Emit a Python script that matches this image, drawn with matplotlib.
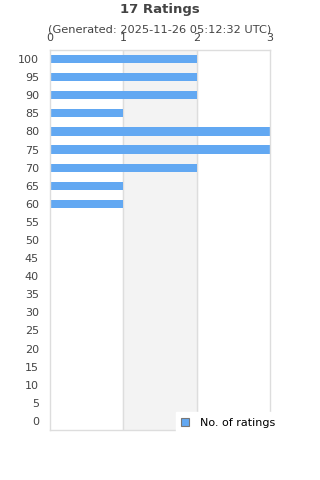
import matplotlib.pyplot as plt
import numpy as np

ratings = [0, 5, 10, 15, 20, 25, 30, 35, 40, 45, 50, 55, 60, 65, 70, 75, 80, 85, 90, 95, 100]
counts = [0, 0, 0, 0, 0, 0, 0, 0, 0, 0, 0, 0, 1, 1, 2, 3, 3, 1, 2, 2, 2]
x_ticks = [0, 1, 2, 3]

barColor = '#62a8f2'
textColor = '#444444'
gridColor = '#dddddd'

fig = plt.figure(figsize=(3.2, 4.8), dpi=100)
ax = fig.add_axes([50/320, 1-430/480, 220/320, 380/480])

y = np.arange(len(ratings))
ax.axvspan(1, 2, color='#f3f3f3', zorder=0)
for xv in x_ticks[1:-1]:
    ax.axvline(xv, color=gridColor, lw=1, zorder=1)
bars = ax.barh(y, counts, 0.45, color=barColor, zorder=2, label='No. of ratings')

ax.set_xlim(0, 3)
ax.set_ylim(-0.5, len(ratings)-0.5)
ax.set_yticks(y, [str(r) for r in ratings])
ax.set_xticks(x_ticks, [str(t) for t in x_ticks])
ax.xaxis.tick_top()
ax.tick_params(axis='both', length=0, labelsize=8, labelcolor=textColor)
ax.tick_params(axis='x', pad=5)
ax.tick_params(axis='y', pad=8)
for s in ax.spines.values():
    s.set_color(gridColor)
    s.set_linewidth(1)

fig.text(0.5, 1-10/480, '17 Ratings', ha='center', va='center',
         fontsize=9.5, fontweight='bold', color=textColor)
fig.text(0.5, 1-30/480, '(Generated: 2025-11-26 05:12:32 UTC)', ha='center',
         va='center', fontsize=8.2, color=textColor)

leg = ax.legend(loc='lower right', bbox_to_anchor=(1.075, -0.024), frameon=True,
                fontsize=8, handlelength=0.7, handleheight=0.7, borderpad=0.5,
                handletextpad=1.0, fancybox=False)
leg.get_frame().set_edgecolor('white')
leg.get_frame().set_alpha(1)
for h in leg.legend_handles:
    h.set_edgecolor('#777777')
    h.set_linewidth(0.8)
leg.set_zorder(5)

plt.savefig('out.png')
